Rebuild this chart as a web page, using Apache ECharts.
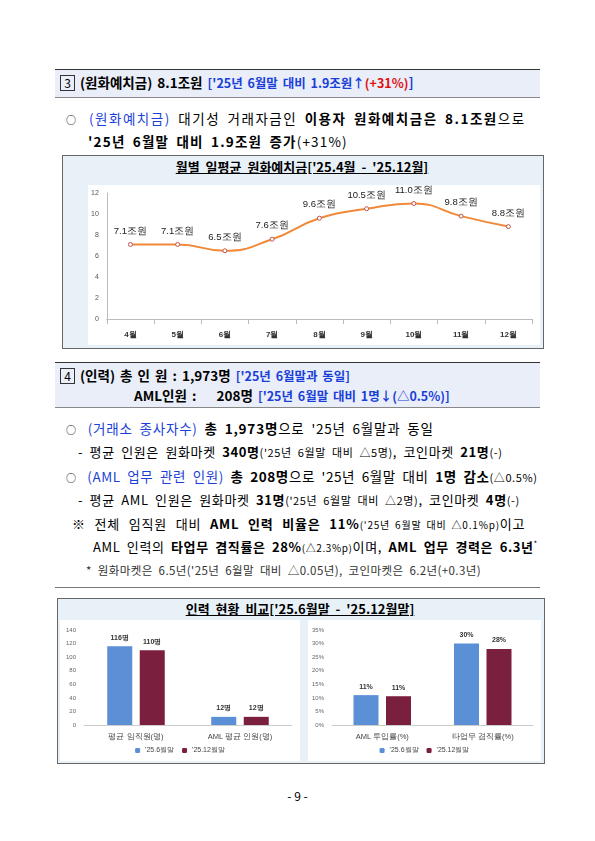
<!DOCTYPE html>
<html><head><meta charset="utf-8">
<script src="https://cdn.jsdelivr.net/npm/echarts@6/dist/echarts.min.js"></script>
<style>
body{margin:0;width:595px;height:841px;background:#fff;font-family:"Noto Sans CJK KR";position:relative;overflow:hidden}
.a{position:absolute;white-space:nowrap}
.hd{position:absolute;left:55px;width:485px;background:#e9eef8;border-top:1.5px solid #333;border-bottom:1px solid #888}
.b{font-weight:bold}.bl{color:#1a3fd8}.rd{color:#e01010}
.box{position:absolute;border:1.5px solid #666;background:#e8f1f8}
.num{display:inline-block;border:1px solid #333;width:13px;height:14px;line-height:13px;text-align:center;font-size:12px;margin-right:5px;font-weight:normal}
.o{font-size:10px;margin-right:4px}
</style></head><body>
<div class="hd" style="top:69px;height:27px"></div>
<div class="a b" style="left:60px;top:72px;font-size:13.5px;word-spacing:2px"><span class="num">3</span>(원화예치금) 8.1조원 <span class="bl" style="font-size:12.5px">['25년 6월말 대비 1.9조원↑</span><span class="rd" style="font-size:12.5px">(+31%)</span><span class="bl">]</span></div>
<div class="a" style="left:66px;top:108px;font-size:13.5px;letter-spacing:1.5px;word-spacing:3px"><span class="o">○</span> <span class="bl">(원화예치금)</span> 대기성 거래자금인 <b>이용자 원화예치금은 8.1조원</b>으로</div>
<div class="a" style="left:88px;top:131px;font-size:13.5px;letter-spacing:1.2px;word-spacing:3px"><b>'25년 6월말 대비 1.9조원 증가</b>(+31%)</div>

<div class="box" style="left:62px;top:155px;width:480px;height:192px"></div>
<div class="a b" style="left:0;width:604px;text-align:center;top:157px;font-size:13px;text-decoration:underline;word-spacing:3px">월별 일평균 원화예치금['25.4월 - '25.12월]</div>
<div id="c1" class="a" style="left:88px;top:185px;width:452px;height:160px;background:#fff"></div>

<div class="hd" style="top:362px;height:44px"></div>
<div class="a b" style="left:60px;top:365px;font-size:13.5px;word-spacing:2px"><span class="num">4</span>(인력) 총 인 원 : 1,973명 <span class="bl" style="font-size:12.5px">['25년 6월말과 동일]</span></div>
<div class="a b" style="left:134px;top:385px;font-size:13.5px;word-spacing:2px">AML인원 :&nbsp;&nbsp;&nbsp; 208명 <span class="bl" style="font-size:12.5px">['25년 6월말 대비 1명↓(△0.5%)]</span></div>
<div class="a" style="left:66px;top:418px;font-size:13.5px;letter-spacing:0.8px;word-spacing:3px"><span class="o">○</span> <span class="bl">(거래소 종사자수)</span> <b>총 1,973명</b>으로 '25년 6월말과 동일</div>
<div class="a" style="left:78px;top:442px;font-size:13px;letter-spacing:0.6px;word-spacing:3px">- 평균 인원은 원화마켓 <b>340명</b><span style="font-size:11px">('25년 6월말 대비 △5명)</span>, 코인마켓 <b>21명</b><span style="font-size:11px">(-)</span></div>
<div class="a" style="left:66px;top:466px;font-size:13.5px;letter-spacing:0.6px;word-spacing:3px"><span class="o">○</span> <span class="bl">(AML 업무 관련 인원)</span> <b>총 208명</b>으로 '25년 6월말 대비 <b>1명 감소</b><span style="font-size:11px">(△0.5%)</span></div>
<div class="a" style="left:78px;top:490px;font-size:13px;letter-spacing:0.6px;word-spacing:3px">- 평균 AML 인원은 원화마켓 <b>31명</b><span style="font-size:11px">('25년 6월말 대비 △2명)</span>, 코인마켓 <b>4명</b><span style="font-size:11px">(-)</span></div>
<div class="a" style="left:72px;top:514px;font-size:13px;letter-spacing:0.8px;word-spacing:5px">※ 전체 임직원 대비 <b>AML 인력 비율은 11%</b><span style="font-size:10px;word-spacing:2px">('25년 6월말 대비 △0.1%p)</span>이고</div>
<div class="a" style="left:93px;top:537px;font-size:13px;letter-spacing:0.6px;word-spacing:3px">AML 인력의 <b>타업무 겸직률은 28%</b><span style="font-size:10px">(△2.3%p)</span>이며, <b>AML 업무 경력은 6.3년</b><sup style="font-size:8px">*</sup></div>
<div class="a" style="left:86px;top:562px;font-size:11.5px;color:#333;letter-spacing:0.4px;word-spacing:3px">* 원화마켓은 6.5년('25년 6월말 대비 △0.05년), 코인마켓은 6.2년(+0.3년)</div>
<div class="a" style="left:55px;top:587px;width:485px;border-top:1px solid #777"></div>

<div class="box" style="left:57px;top:598px;width:486px;height:164px"></div>
<div class="a b" style="left:0;width:600px;text-align:center;top:599px;font-size:13px;text-decoration:underline;word-spacing:3px">인력 현황 비교['25.6월말 - '25.12월말]</div>
<div id="c2" class="a" style="left:60px;top:620px;width:240px;height:141px;background:#fff"></div>
<div id="c3" class="a" style="left:308px;top:620px;width:233px;height:141px;background:#fff"></div>
<div class="a" style="left:0;width:595px;text-align:center;top:787px;font-size:12px">- 9 -</div>
<script>
const months=['4월','5월','6월','7월','8월','9월','10월','11월','12월'];
const deposits=[7.1,7.1,6.5,7.6,9.6,10.5,11.0,9.8,8.8];
const staffCats=['평균 임직원(명)','AML 평균 인원(명)'];
const staffJun=[116,12];
const staffDec=[110,12];
const rateCats=['AML 투입률(%)','타업무 겸직률(%)'];
const rateJun=[11,30];
const rateDec=[10.6,28];
const legendNames=["'25.6월말","'25.12월말"];
const tx={fontSize:7,color:'#555'};
echarts.init(document.getElementById('c1')).setOption({animation:false,
grid:{left:18,right:8,top:8,bottom:26},
xAxis:{type:'category',data:months,boundaryGap:true,axisLine:{lineStyle:{color:'#bbb'}},axisTick:{show:true,lineStyle:{color:'#bbb'}},axisLabel:{fontSize:8,fontWeight:'bold',color:'#333',margin:12}},
yAxis:{type:'value',min:0,max:12,interval:2,axisLine:{show:true,lineStyle:{color:'#bbb'}},splitLine:{show:false},axisLabel:tx},
series:[{type:'line',smooth:true,data:deposits,symbol:'circle',symbolSize:4,itemStyle:{color:'#fff',borderColor:'#c0504d',borderWidth:1},lineStyle:{color:'#f08a3a',width:2},
label:{show:true,position:'top',distance:6,fontSize:9.5,color:'#222',formatter:p=>p.value.toFixed(1)+'조원'}}]});
function bar(id,cats,a,b,max,iv,fmt){
echarts.init(document.getElementById(id)).setOption({animation:false,
legend:{bottom:2,itemWidth:5,itemHeight:5,textStyle:{fontSize:7,color:'#444'},data:legendNames},
grid:{left:24,right:8,top:10,bottom:36},
xAxis:{type:'category',data:cats,axisLine:{lineStyle:{color:'#ccc'}},axisTick:{show:false},axisLabel:{fontSize:7.5,color:'#444'}},
yAxis:{type:'value',min:0,max:max,interval:iv,axisLine:{show:false},splitLine:{show:false},axisLabel:{fontSize:6,color:'#666',formatter:fmt}},
series:[{name:legendNames[0],type:'bar',data:a,barWidth:25,barGap:'30%',itemStyle:{color:'#5b8fd6'},label:{show:true,position:'top',fontSize:7,fontWeight:'bold',formatter:p=>Math.round(p.value)+(max>50?'명':'%')}},
{name:legendNames[1],type:'bar',data:b,barWidth:25,itemStyle:{color:'#7b1f3f'},label:{show:true,position:'top',fontSize:7,fontWeight:'bold',formatter:p=>Math.round(p.value)+(max>50?'명':'%')}}]});}
bar('c2',staffCats,staffJun,staffDec,140,20,v=>v);
bar('c3',rateCats,rateJun,rateDec,35,5,v=>v+'%');
</script></body></html>
